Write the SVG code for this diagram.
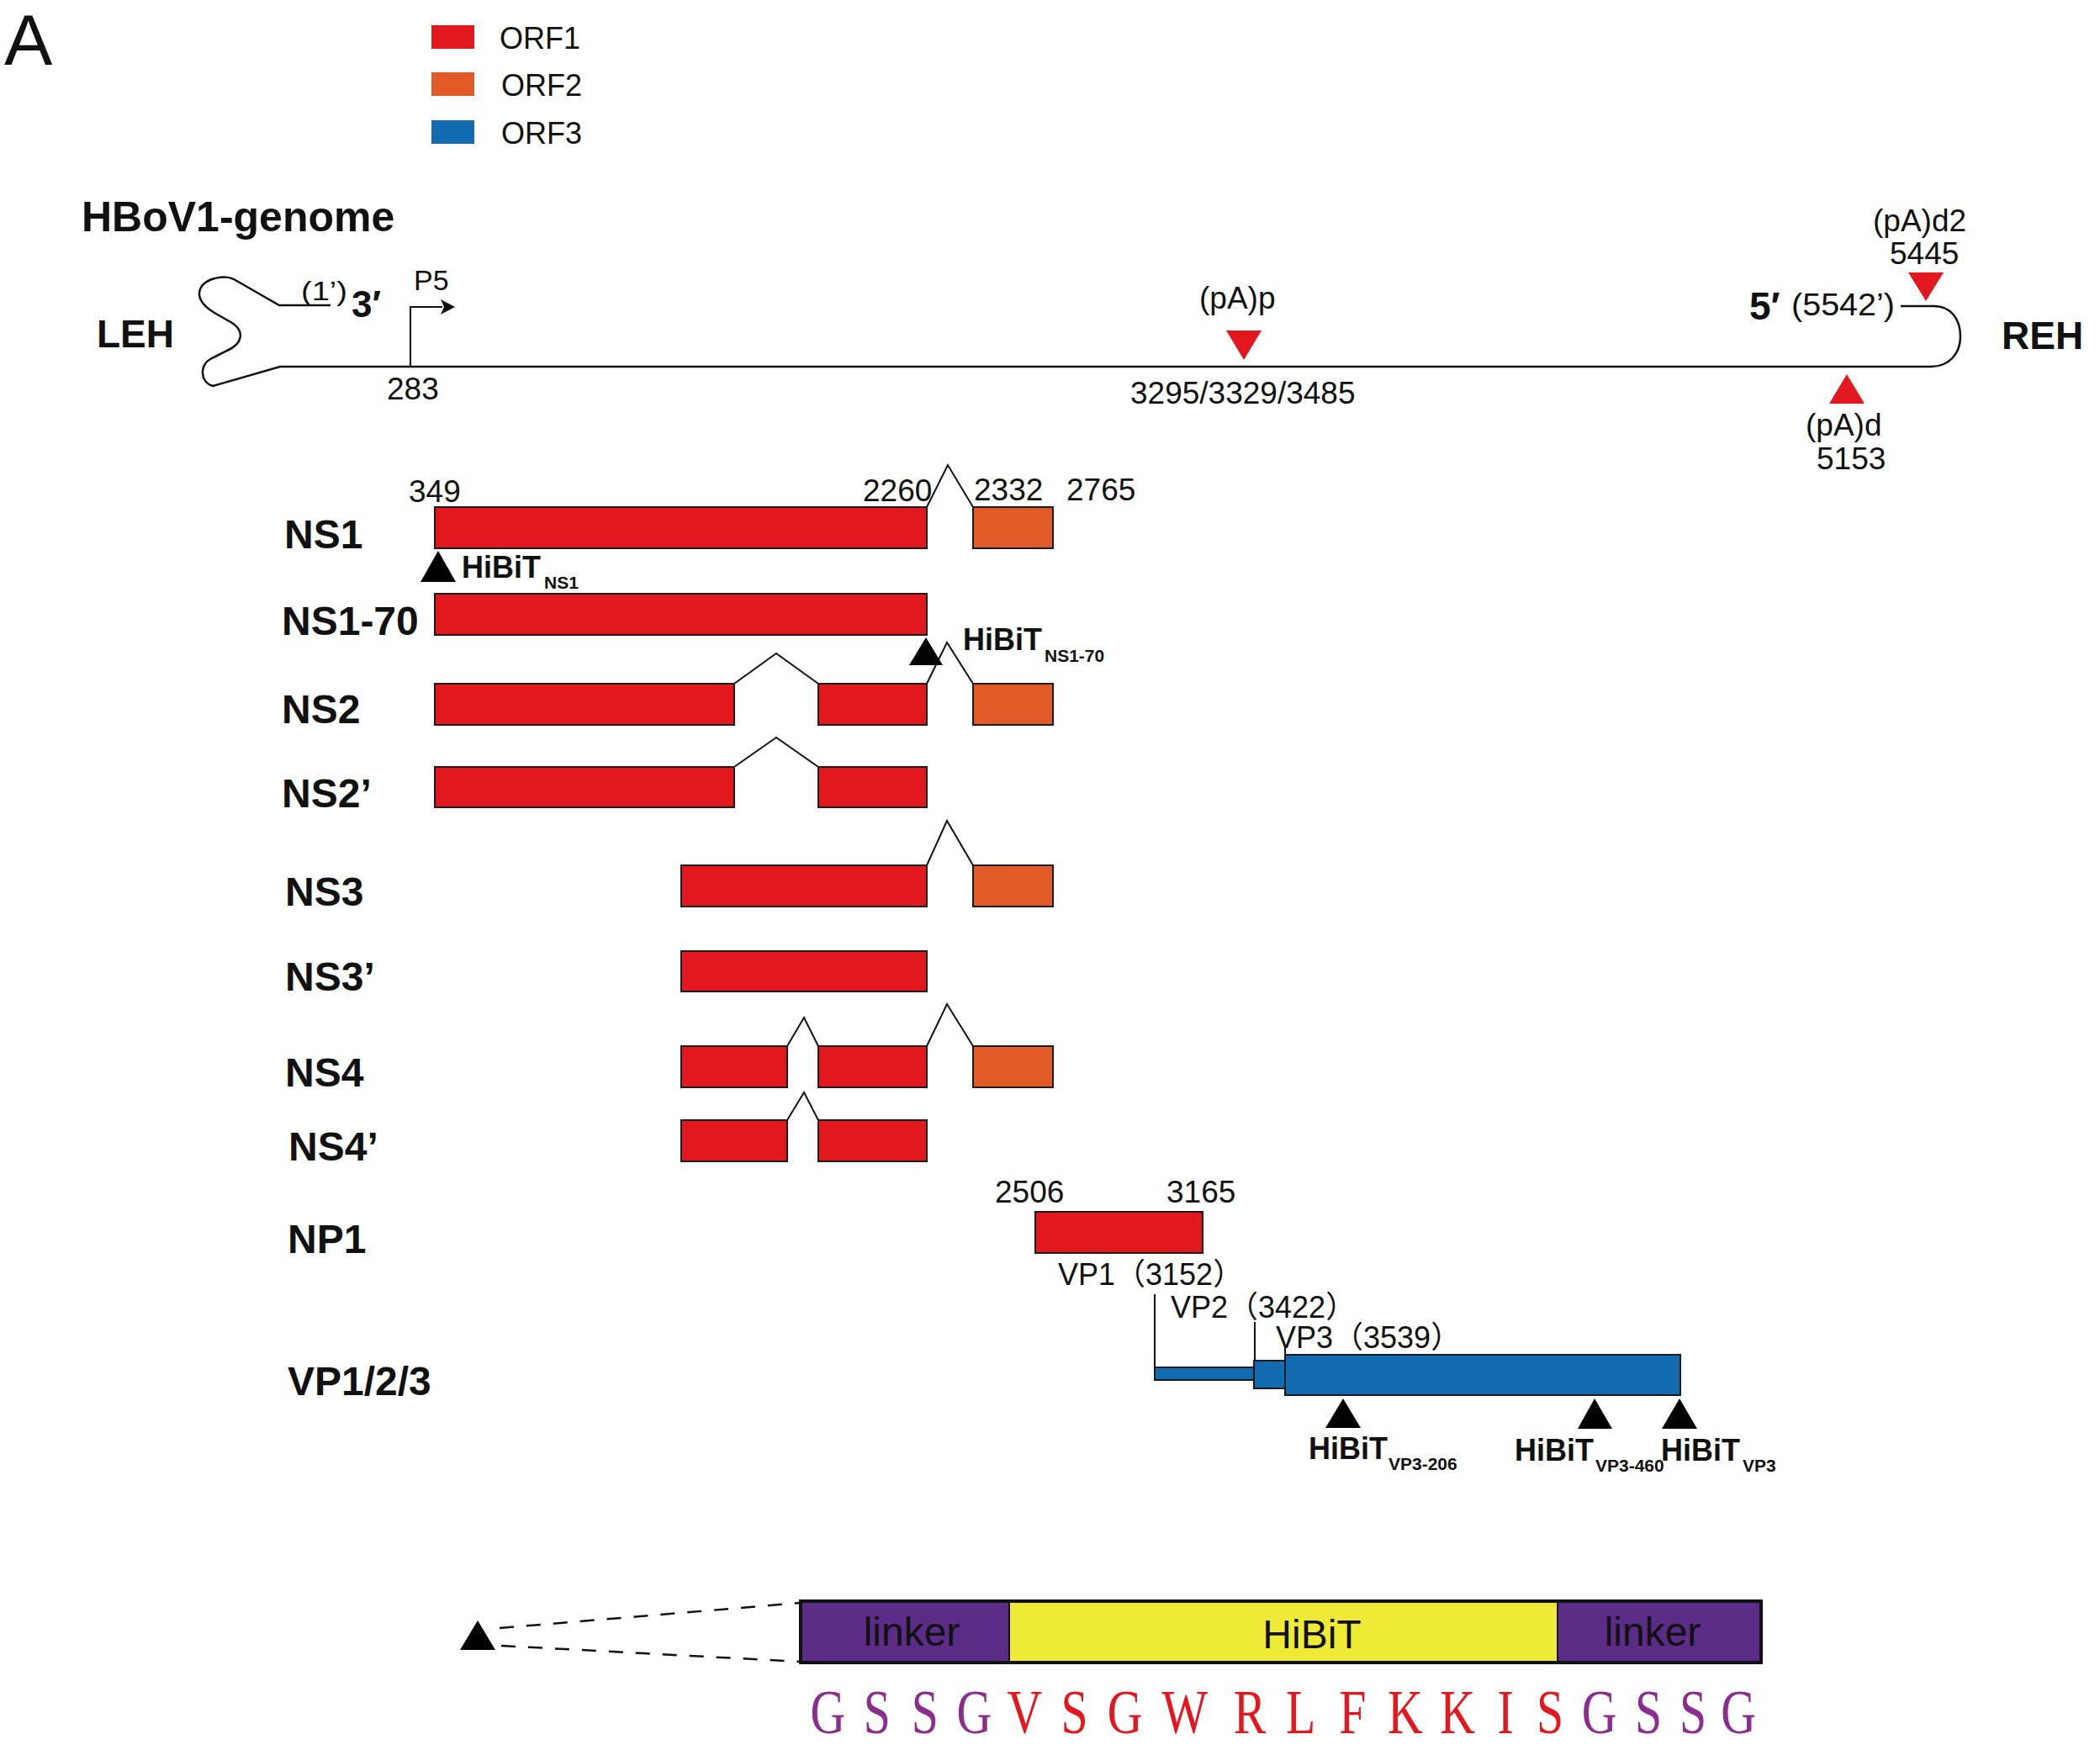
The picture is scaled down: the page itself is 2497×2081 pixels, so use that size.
<svg xmlns="http://www.w3.org/2000/svg" width="2497" height="2081" viewBox="0 0 2497 2081">
<style>
text{font-family:"Liberation Sans",Arial,sans-serif;fill:#111}
.b{font-weight:bold}
.num{font-size:37px}
.lab{font-size:48px;font-weight:bold}
.hb{font-size:36px;font-weight:bold}
.sub{font-size:21px;font-weight:bold}
.cj{font-family:"Liberation Sans","Noto Sans CJK SC",sans-serif;font-size:36px}
.r{fill:#E3171E;stroke:#1a1a1a;stroke-width:2}
.o{fill:#E25A28;stroke:#1a1a1a;stroke-width:2}
.bl{fill:#126AB0;stroke:#1a1a1a;stroke-width:2}
.ln{fill:none;stroke:#111;stroke-width:2}
.tri{fill:#000}
.rt{fill:#E3171E}
.seq{font-family:"Liberation Serif","Times New Roman",serif;font-size:74px}
</style>
<rect width="2497" height="2081" fill="#fff"/>
<text x="5" y="77" font-size="86">A</text>
<g id="legend">
<rect x="513" y="30" width="51" height="28" fill="#E3171E"/>
<rect x="513" y="86" width="51" height="28" fill="#E25A28"/>
<rect x="513" y="143" width="51" height="28" fill="#126AB0"/>
<text x="594" y="58" font-size="36">ORF1</text>
<text x="596" y="114" font-size="36">ORF2</text>
<text x="596" y="171" font-size="36">ORF3</text>
</g>
<g id="genome">
<text x="97" y="275" class="b" font-size="50">HBoV1-genome</text>
<text x="115" y="413" class="b" font-size="46">LEH</text>
<text x="2380" y="415" class="b" font-size="46">REH</text>
<path d="M393,363 H332 L278,332 C268,327 248,330 240,340 C233,350 238,362 255,372 L276,384 C290,393 290,408 270,417 L250,427 C237,434 238,455 253,459 L333,436 H2296 C2318,436 2331,420 2331,400 C2331,380 2320,364 2300,364 H2260" fill="none" stroke="#111" stroke-width="2.5"/>
<text x="358" y="357" font-size="32" textLength="55" lengthAdjust="spacingAndGlyphs">(1’)</text>
<text x="418" y="377" class="b" font-size="44">3′</text>
<text x="492" y="345" font-size="34">P5</text>
<text x="460" y="475" class="num">283</text>
<text x="2080" y="380" class="b" font-size="46">5′</text>
<text x="2130" y="375" class="num" textLength="123" lengthAdjust="spacingAndGlyphs">(5542’)</text>
<text x="1426" y="367" class="num">(pA)p</text>
<polygon class="rt" points="1458,393 1500,393 1479,428"/>
<text x="1344" y="480" class="num">3295/3329/3485</text>
<text x="2227" y="275" class="num">(pA)d2</text>
<text x="2247" y="314" class="num">5445</text>
<polygon class="rt" points="2269,324 2311,324 2290,358"/>
<polygon class="rt" points="2175,480 2217,480 2196,445"/>
<text x="2147" y="518" class="num">(pA)d</text>
<text x="2160" y="558" class="num">5153</text>
</g>
<g id="connectors">
<polyline class="ln" points="488,436 488,365 526,365"/>
<polygon points="541,365 524,356 528,365 524,374" fill="#111"/>
<polyline class="ln" points="1102,603 1127,553 1157,603"/>
<polyline class="ln" points="873,813 923,777 973,813"/>
<polyline class="ln" points="1102,813 1126,764 1157,813"/>
<polyline class="ln" points="873,912 923,877 973,912"/>
<polyline class="ln" points="1102,1029 1126,976 1157,1029"/>
<polyline class="ln" points="936,1244 956,1210 973,1244"/>
<polyline class="ln" points="1102,1244 1126,1194 1157,1244"/>
<polyline class="ln" points="936,1332 956,1299 973,1332"/>
<line class="ln" x1="1373" y1="1539" x2="1373" y2="1634"/>
<line class="ln" x1="1492" y1="1572" x2="1492" y2="1634"/>
<line class="ln" x1="1528" y1="1602" x2="1528" y2="1634"/>
<line x1="594" y1="1936" x2="952" y2="1906" stroke="#111" stroke-width="2.5" stroke-dasharray="17,15"/>
<line x1="596" y1="1957" x2="952" y2="1976" stroke="#111" stroke-width="2.5" stroke-dasharray="17,15"/>
</g>
<g id="NS1">
<text x="338" y="652" class="lab">NS1</text>
<rect class="r" x="517" y="603" width="585" height="49"/>
<rect class="o" x="1157" y="603" width="95" height="49"/>
<text x="486" y="597" class="num">349</text>
<text x="1026" y="596" class="num">2260</text>
<text x="1158" y="595" class="num">2332</text>
<text x="1268" y="595" class="num">2765</text>
<polygon class="tri" points="500,692 542,692 521,655"/>
<text x="549" y="687" class="hb">HiBiT</text>
<text x="647" y="700" class="sub">NS1</text>
</g>
<g id="NS1-70">
<text x="335" y="755" class="lab">NS1-70</text>
<rect class="r" x="517" y="706" width="585" height="49"/>
<polygon class="tri" points="1081,791 1121,791 1101,758"/>
<text x="1145" y="773" class="hb">HiBiT</text>
<text x="1242" y="787" class="sub">NS1-70</text>
</g>
<g id="NS2">
<text x="335" y="860" class="lab">NS2</text>
<rect class="r" x="517" y="813" width="356" height="49"/>
<rect class="r" x="973" y="813" width="129" height="49"/>
<rect class="o" x="1157" y="813" width="95" height="49"/>
</g>
<g id="NS2p">
<text x="335" y="960" class="lab">NS2’</text>
<rect class="r" x="517" y="912" width="356" height="48"/>
<rect class="r" x="973" y="912" width="129" height="48"/>
</g>
<g id="NS3">
<text x="339" y="1077" class="lab">NS3</text>
<rect class="r" x="810" y="1029" width="292" height="49"/>
<rect class="o" x="1157" y="1029" width="95" height="49"/>
</g>
<g id="NS3p">
<text x="339" y="1178" class="lab">NS3’</text>
<rect class="r" x="810" y="1131" width="292" height="48"/>
</g>
<g id="NS4">
<text x="339" y="1292" class="lab">NS4</text>
<rect class="r" x="810" y="1244" width="126" height="49"/>
<rect class="r" x="973" y="1244" width="129" height="49"/>
<rect class="o" x="1157" y="1244" width="95" height="49"/>
</g>
<g id="NS4p">
<text x="343" y="1380" class="lab">NS4’</text>
<rect class="r" x="810" y="1332" width="126" height="49"/>
<rect class="r" x="973" y="1332" width="129" height="49"/>
</g>
<g id="NP1">
<text x="342" y="1490" class="lab">NP1</text>
<rect class="r" x="1231" y="1441" width="199" height="49"/>
<text x="1183" y="1430" class="num">2506</text>
<text x="1387" y="1430" class="num">3165</text>
</g>
<g id="VP">
<text x="342" y="1659" class="lab">VP1/2/3</text>
<text x="1258" y="1528" class="cj">VP1（3152）</text>
<text x="1392" y="1567" class="cj">VP2（3422）</text>
<text x="1517" y="1603" class="cj">VP3（3539）</text>
<rect class="bl" x="1373" y="1626" width="118" height="15"/>
<rect class="bl" x="1491" y="1618" width="37" height="33"/>
<rect class="bl" x="1528" y="1611" width="470" height="48"/>
<polygon class="tri" points="1576,1698 1618,1698 1597,1663"/>
<polygon class="tri" points="1876,1699 1917,1699 1896,1663"/>
<polygon class="tri" points="1976,1699 2018,1699 1997,1663"/>
<text x="1556" y="1735" class="hb">HiBiT</text>
<text x="1651" y="1748" class="sub">VP3-206</text>
<text x="1801" y="1737" class="hb">HiBiT</text>
<text x="1897" y="1750" class="sub">VP3-460</text>
<text x="1975" y="1737" class="hb">HiBiT</text>
<text x="2072" y="1750" class="sub">VP3</text>
</g>
<g id="tag">
<polygon class="tri" points="547,1962 589,1962 568,1927"/>
<rect x="952" y="1904" width="248" height="73" fill="#5B2C86"/>
<rect x="1200" y="1904" width="652" height="73" fill="#EEEA35"/>
<rect x="1852" y="1904" width="242" height="73" fill="#5B2C86"/>
<line x1="1200" y1="1904" x2="1200" y2="1977" stroke="#111" stroke-width="2"/>
<line x1="1852" y1="1904" x2="1852" y2="1977" stroke="#111" stroke-width="2"/>
<rect x="952" y="1904" width="1142" height="73" fill="none" stroke="#111" stroke-width="4"/>
<text x="1084" y="1957" font-size="48" text-anchor="middle">linker</text>
<text x="1560" y="1960" font-size="48" text-anchor="middle">HiBiT</text>
<text x="1965" y="1957" font-size="48" text-anchor="middle">linker</text>
<text class="seq" y="2061" text-anchor="middle" transform="scale(0.78,1)"><tspan fill="#8B2C8E" x="1262">G</tspan><tspan fill="#8B2C8E" x="1337">S</tspan><tspan fill="#8B2C8E" x="1410">S</tspan><tspan fill="#8B2C8E" x="1485">G</tspan><tspan fill="#E3171E" x="1562">V</tspan><tspan fill="#E3171E" x="1638">S</tspan><tspan fill="#E3171E" x="1715">G</tspan><tspan fill="#E3171E" x="1806">W</tspan><tspan fill="#E3171E" x="1905">R</tspan><tspan fill="#E3171E" x="1983">L</tspan><tspan fill="#E3171E" x="2062">F</tspan><tspan fill="#E3171E" x="2142">K</tspan><tspan fill="#E3171E" x="2222">K</tspan><tspan fill="#E3171E" x="2295">I</tspan><tspan fill="#E3171E" x="2363">S</tspan><tspan fill="#8B2C8E" x="2438">G</tspan><tspan fill="#8B2C8E" x="2513">S</tspan><tspan fill="#8B2C8E" x="2581">S</tspan><tspan fill="#8B2C8E" x="2650">G</tspan></text>
</g>
</svg>
